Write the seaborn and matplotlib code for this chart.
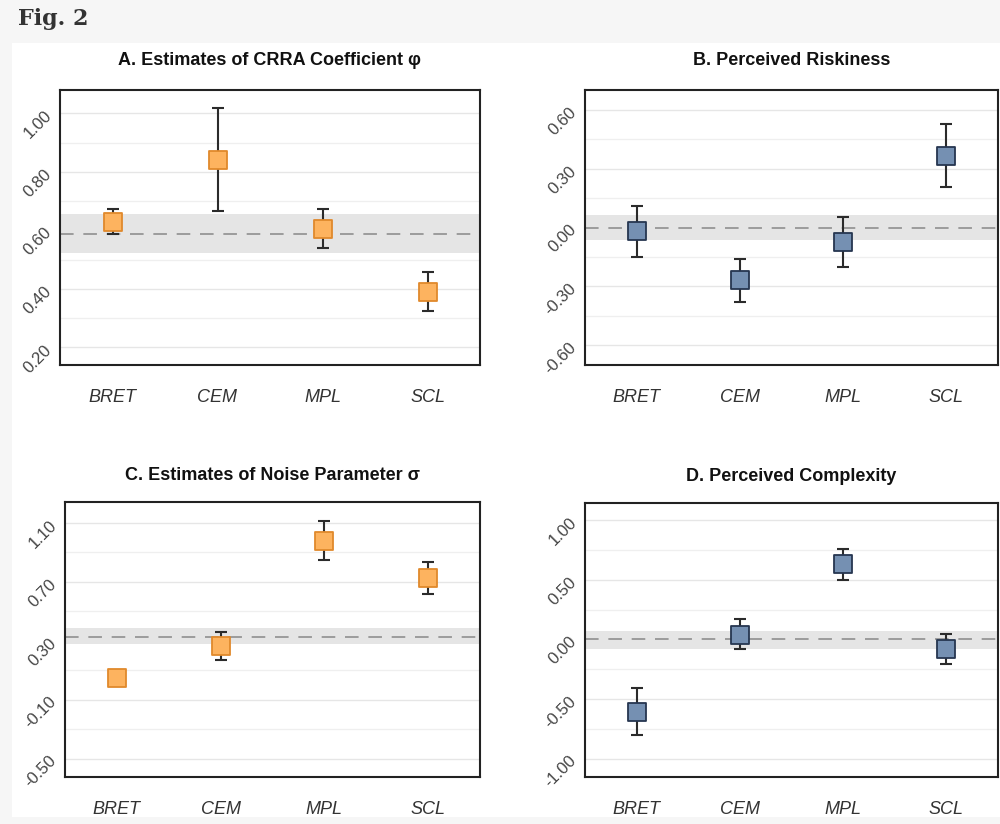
import numpy as np
import matplotlib
matplotlib.use("Agg")
import matplotlib.pyplot as plt
from matplotlib.patches import Rectangle
from matplotlib.ticker import FixedLocator, FormatStrFormatter
import seaborn as sns

# ---------------- data ----------------
categories = ["BRET", "CEM", "MPL", "SCL"]

a_est = [0.628, 0.840, 0.606, 0.390]
a_lo = [0.589, 0.666, 0.541, 0.324]
a_hi = [0.672, 1.019, 0.672, 0.459]
a_ref = 0.589
a_band = [0.524, 0.655]
a_ticks = [0.20, 0.40, 0.60, 0.80, 1.00]

b_est = [-0.020, -0.268, -0.076, 0.364]
b_lo = [-0.150, -0.378, -0.200, 0.204]
b_hi = [0.110, -0.158, 0.051, 0.526]
b_ref = 0.0
b_band = [-0.062, 0.064]
b_ticks = [-0.60, -0.30, 0.00, 0.30, 0.60]

c_est = [0.049, 0.263, 0.978, 0.723]
c_lo = [0.038, 0.171, 0.850, 0.614]
c_hi = [0.060, 0.360, 1.110, 0.835]
c_ref = 0.325
c_band = [0.274, 0.383]
c_ticks = [-0.50, -0.10, 0.30, 0.70, 1.10]

d_est = [-0.607, 0.036, 0.632, -0.084]
d_lo = [-0.800, -0.084, 0.500, -0.210]
d_hi = [-0.408, 0.168, 0.758, 0.042]
d_ref = 0.0
d_band = [-0.084, 0.070]
d_ticks = [-1.00, -0.50, 0.00, 0.50, 1.00]

titles = ["A. Estimates of CRRA Coefficient \u03c6",
          "B. Perceived Riskiness",
          "C. Estimates of Noise Parameter \u03c3",
          "D. Perceived Complexity"]

# ---------------- style ----------------
sns.set_style("white")
plt.rcParams["font.family"] = ["Liberation Sans", "DejaVu Sans"]
plt.rcParams["axes.unicode_minus"] = False

ORANGE_FILL = "#FDB35F"
ORANGE_EDGE = "#E0892C"
BLUE_FILL = "#7590B2"
BLUE_EDGE = "#263650"

W, H = 1000, 824
fig = plt.figure(figsize=(W / 100, H / 100), dpi=100, facecolor="#f6f6f6")
fig.patches.append(Rectangle((12 / W, 1 - 817 / H), (W - 12) / W, (817 - 43) / H,
                             transform=fig.transFigure, facecolor="white",
                             edgecolor="none", zorder=-10))
fig.text(18 / W, 1 - 19 / H, "Fig. 2", family="DejaVu Serif", fontweight="bold",
         fontsize=16, color="#333333", va="center", ha="left")


def px_axes(l, r, t, b):
    return fig.add_axes([l / W, 1 - b / H, (r - l) / W, (b - t) / H])


panels = [
    (px_axes(60, 480, 90, 365), a_est, a_lo, a_hi, a_ref, a_band, a_ticks, (0.14, 1.08), ORANGE_FILL, ORANGE_EDGE, 18),
    (px_axes(585, 998, 90, 365), b_est, b_lo, b_hi, b_ref, b_band, b_ticks, (-0.70, 0.70), BLUE_FILL, BLUE_EDGE, 18),
    (px_axes(65, 480, 502, 777), c_est, c_lo, c_hi, c_ref, c_band, c_ticks, (-0.625, 1.24), ORANGE_FILL, ORANGE_EDGE, 16),
    (px_axes(585, 998, 503, 777), d_est, d_lo, d_hi, d_ref, d_band, d_ticks, (-1.155, 1.146), BLUE_FILL, BLUE_EDGE, 16),
]

for (ax, est, lo, hi, ref, band, ticks, ylim, fill, edge, tpad), title in zip(panels, titles):
    ax.set_facecolor("white")
    ax.set_axisbelow(True)
    sns.scatterplot(x=categories, y=est, ax=ax, marker="s", s=150, color=fill,
                    edgecolor=edge, linewidth=1.3, zorder=4, legend=False)
    est_a = np.array(est)
    yerr = np.vstack([est_a - np.array(lo), np.array(hi) - est_a])
    ax.errorbar(categories, est, yerr=yerr, fmt="none", ecolor="#2b2b2b",
                elinewidth=1.5, capsize=4.5, capthick=1.5, zorder=3)
    ax.axhspan(band[0], band[1], color="#e5e5e5", zorder=1, lw=0)
    ax.axhline(ref, color="#9c9c9c", lw=1.4, ls=(0, (7, 5)), zorder=2)

    ax.set_xlim(-0.5, 3.5)
    ax.set_ylim(*ylim)
    ax.yaxis.set_major_locator(FixedLocator(ticks))
    step = ticks[1] - ticks[0]
    minors = [t + step / 2 for t in ticks[:-1]]
    ax.yaxis.set_minor_locator(FixedLocator(minors))
    ax.yaxis.set_major_formatter(FormatStrFormatter("%.2f"))
    ax.grid(axis="y", which="major", color="#e6e6e6", lw=1.0, zorder=0)
    ax.grid(axis="y", which="minor", color="#efefef", lw=0.9, zorder=0)
    ax.grid(axis="x", visible=False)

    ax.tick_params(axis="both", which="both", length=0)
    ax.tick_params(axis="y", pad=8, labelsize=12, labelcolor="#444444")
    ax.tick_params(axis="x", pad=17, labelsize=13, labelcolor="#333333")
    for lab in ax.get_yticklabels():
        lab.set_rotation(45)
        lab.set_rotation_mode("anchor")
        lab.set_ha("right")
        lab.set_va("center")
    for lab in ax.get_xticklabels():
        lab.set_fontstyle("italic")

    for sp in ax.spines.values():
        sp.set_visible(True)
        sp.set_color("#222222")
        sp.set_linewidth(1.5)
    ax.set_xlabel("")
    ax.set_ylabel("")
    ax.set_title(title, fontsize=13, fontweight="bold", color="#111111", pad=tpad)

fig.savefig("out.png", dpi=100, facecolor=fig.get_facecolor())
